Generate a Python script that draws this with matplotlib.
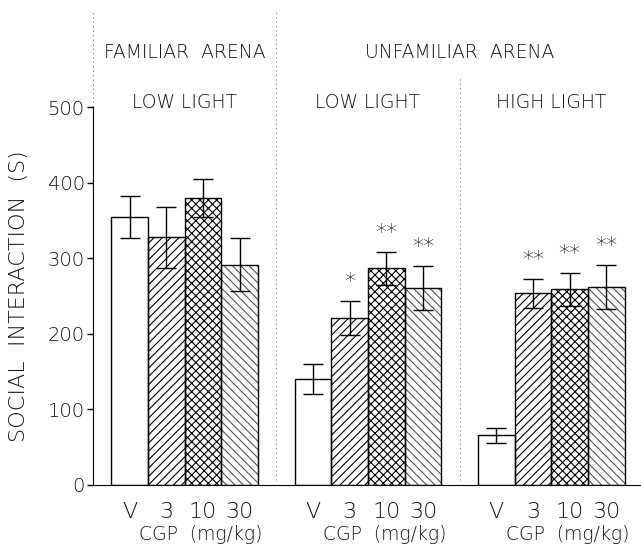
import matplotlib
matplotlib.use('Agg')
from matplotlib import pyplot as plt

# bar order inside each group
DOSES = ['V', '3', '10', '30']
HATCHES = ['', '////', 'xxxx', '\\\\\\\\']
HATCH_COLORS = ['black', 'black', 'black', '#555555']

GROUPS = ['familiar_low', 'unfamiliar_low', 'unfamiliar_high']
SUBTITLES = ['LOW LIGHT', 'LOW LIGHT', 'HIGH LIGHT']

MEANS = {
    'familiar_low': [355, 328, 380, 292],
    'unfamiliar_low': [140, 221, 287, 261],
    'unfamiliar_high': [66, 254, 259, 262],
}
ERRORS = {
    'familiar_low': [28, 40, 25, 35],
    'unfamiliar_low': [20, 23, 22, 29],
    'unfamiliar_high': [10, 19, 22, 29],
}
STARS = {
    'familiar_low': ['', '', '', ''],
    'unfamiliar_low': ['', '*', '**', '**'],
    'unfamiliar_high': ['', '**', '**', '**'],
}

plt.rcParams['font.family'] = 'DejaVu Sans'
plt.rcParams['font.weight'] = 'light'
plt.rcParams['hatch.linewidth'] = 0.8
TXT = '#111111'

fig = plt.figure(figsize=(6.41, 5.45), dpi=100)
ax = fig.add_axes([0.1451, 0.1101, 0.8549, 0.8728])

xticks = []
xlabels = []
for g, group in enumerate(GROUPS):
    start = g * 5
    for i, dose in enumerate(DOSES):
        x = start + i + 0.5
        m = MEANS[group][i]
        e = ERRORS[group][i]
        # hatch drawn with its own colour, outline drawn on top in black
        ax.bar(x, m, width=1.0, color='white', edgecolor=HATCH_COLORS[i],
               hatch=HATCHES[i], linewidth=0, zorder=2)
        ax.bar(x, m, width=1.0, fill=False, edgecolor='black', linewidth=1.0, zorder=3)
        ax.errorbar(x, m, yerr=e, color='black', capsize=7, elinewidth=1.0,
                    capthick=1.0, zorder=4)
        if STARS[group][i]:
            ax.text(x, m + e + 12, STARS[group][i], ha='center', va='bottom',
                    fontsize=16, color=TXT, zorder=5)
        xticks.append(x)
        xlabels.append(dose)
    center = start + 2
    ax.text(center, 507, SUBTITLES[g], ha='center', va='center', fontsize=13.5, color=TXT)
    ax.text(start + 2.45, -0.105, 'CGP  (mg/kg)', ha='center', va='center',
            fontsize=13.5, color=TXT, transform=ax.get_xaxis_transform())

ax.text(2, 573, 'FAMILIAR  ARENA', ha='center', va='center', fontsize=13.5, color=TXT)
ax.text(9.5, 573, 'UNFAMILIAR  ARENA', ha='center', va='center', fontsize=13.5, color=TXT)

# dotted separators
dot = dict(color='#777777', linestyle=(0, (1, 3)), linewidth=0.8, zorder=1)
ax.plot([-0.5, -0.5], [500, 626], **dot, clip_on=False)
ax.plot([4.5, 4.5], [6, 626], **dot)
ax.plot([9.5, 9.5], [6, 539], **dot)

ax.set_xlim(-0.5, 14.45)
ax.set_ylim(0, 630)
ax.set_yticks([0, 100, 200, 300, 400, 500])
ax.tick_params(axis='y', direction='out', length=4, width=1, labelsize=14, pad=2,
               labelcolor=TXT)
ax.set_xticks(xticks)
ax.set_xticklabels(xlabels, fontsize=16, color=TXT)
ax.tick_params(axis='x', length=0, pad=12)

ax.spines['top'].set_visible(False)
ax.spines['right'].set_visible(False)
ax.spines['left'].set_bounds(0, 500)

ax.text(-0.135, 250, 'SOCIAL  INTERACTION  (S)', rotation=90, ha='center', va='center',
        fontsize=16, color=TXT, transform=ax.get_yaxis_transform())

fig.savefig('out.png', dpi=100)
